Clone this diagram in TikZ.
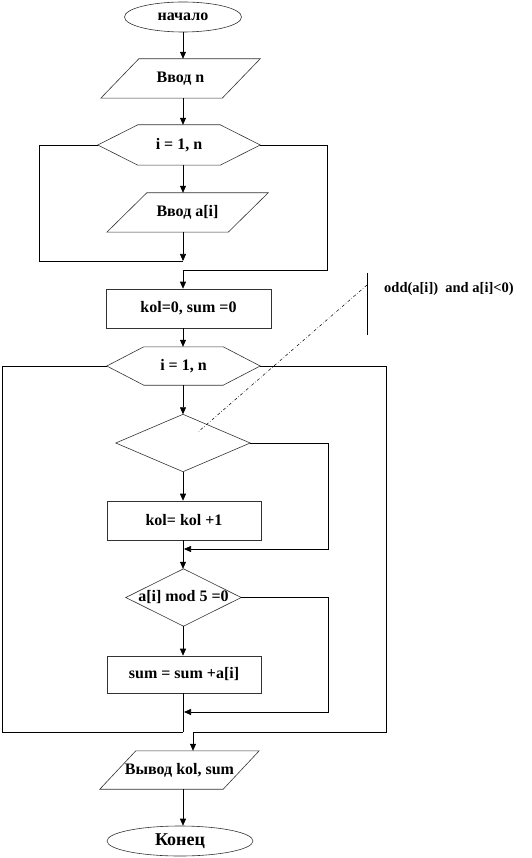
\documentclass[tikz,border=0pt]{standalone}
\usepackage{fontspec}
\setmainfont{Liberation Serif}
\usetikzlibrary{arrows.meta,shapes.geometric}
\begin{document}
\begin{tikzpicture}[x=1pt,y=-1pt,
  every node/.style={font=\bfseries\fontsize{16}{18}\selectfont, inner sep=0pt},
  shp/.style={draw=black!80, line width=0.6pt},
  term/.style={shp, ellipse},
  flow/.style={line width=0.6pt},
  arr/.style={flow, -{Triangle[length=7pt,width=6pt]}},
  note/.style={line width=0.5pt, dash dot},
]
\useasboundingbox (0,0) rectangle (531,858);
\coordinate (ax) at (183,0);

% nodes
\node[term, minimum width=117pt, minimum height=30pt] (start) at (183,17) {начало};
\node[minimum width=159pt, minimum height=39pt] (in1) at (180.5,78.5) {Ввод n};
\node[minimum width=162pt, minimum height=40pt] (h1) at (179,145) {i = 1, n};
\node[minimum width=161pt, minimum height=39pt] (p2) at (187.5,212.5) {Ввод a[i]};
\node[shp, minimum width=165pt, minimum height=39pt] (r1) at (188.5,308.5) {kol=0, sum =0};
\node[minimum width=153pt, minimum height=38pt] (h2) at (183.5,366) {i = 1, n};
\node[minimum width=134pt, minimum height=57pt] (d1) at (183,443) {};
\node[shp, minimum width=154pt, minimum height=39pt] (r2) at (184,520.5) {kol= kol +1};
\node[minimum width=115pt, minimum height=57pt] (d2) at (183.5,597.5) {a[i] mod 5 =0};
\node[shp, minimum width=154pt, minimum height=37pt] (r3) at (184,674.5) {sum = sum +a[i]};
\node[minimum width=159pt, minimum height=38pt] (p3) at (179.5,770) {Вывод kol, sum};
\node[term, minimum width=146pt, minimum height=30pt, font=\bfseries\fontsize{18}{20}\selectfont] (end) at (180,841) {Конец};
\node[anchor=west, font=\bfseries\fontsize{14.5}{17}\selectfont] (cm) at (384,289) {odd(a[i]) \ and a[i]<0)};

% outlines
\draw[shp] ([xshift=38pt]in1.north west) -- (in1.north east) -- ([xshift=-38pt]in1.south east) -- (in1.south west) -- cycle;
\draw[shp] (h1.west) -- ([xshift=40pt]h1.north west) -- ([xshift=-40pt]h1.north east) -- (h1.east) -- ([xshift=-40pt]h1.south east) -- ([xshift=40pt]h1.south west) -- cycle;
\draw[shp] ([xshift=40pt]p2.north west) -- (p2.north east) -- ([xshift=-40pt]p2.south east) -- (p2.south west) -- cycle;
\draw[shp] (h2.west) -- ([xshift=37pt]h2.north west) -- ([xshift=-37pt]h2.north east) -- (h2.east) -- ([xshift=-37pt]h2.south east) -- ([xshift=37pt]h2.south west) -- cycle;
\draw[shp] (d1.north) -- (d1.east) -- (d1.south) -- (d1.west) -- cycle;
\draw[shp] (d2.north) -- (d2.east) -- (d2.south) -- (d2.west) -- cycle;
\draw[shp] ([xshift=36pt]p3.north west) -- (p3.north east) -- ([xshift=-36pt]p3.south east) -- (p3.south west) -- cycle;

% junctions
\coordinate (j1) at (183,261);
\coordinate (j2) at (184,549);
\coordinate (j3) at (184,712);
\coordinate (j4) at (183,732);
\coordinate (j5) at (193,732);

% connectors
\draw[arr] (start.south) -- (ax |- in1.north);
\draw[arr] (ax |- in1.south) -- (ax |- h1.north);
\draw[arr] (ax |- h1.south) -- (ax |- p2.north);
\draw[arr] (ax |- p2.south) -- (j1);
\draw[flow] (h1.west) -| (39,261) -- (j1);
\draw[arr] (h1.east) -| (327,270) -| (ax |- r1.north);
\draw[arr] (ax |- r1.south) -- (ax |- h2.north);
\draw[arr] (ax |- h2.south) -- (d1.north);
\draw[arr] (d1.south) -- (ax |- r2.north);
\draw[arr] (d1.east) -| (328,549) -- (j2);
\draw[arr] (ax |- r2.south) -- (ax |- d2.north);
\draw[arr] (d2.east) -| (328,712) -- (j3);
\draw[arr] (ax |- d2.south) -- (ax |- r3.north);
\draw[flow] (ax |- r3.south) -- (j4);
\draw[flow] (h2.west) -| (2,732) -- (j4);
\draw[arr] (h2.east) -| (386,732) -- (j5) -- (p3.north -| j5);
\draw[arr] (ax |- p3.south) -- (ax |- end.north);

% comment
\coordinate (c1) at (367,273);
\coordinate (c2) at (367,335);
\coordinate (c3) at (367,285);
\coordinate (c4) at (198,432);
\draw[flow] (c1) -- (c2);
\draw[note] (c3) -- (c4);
\end{tikzpicture}
\end{document}
